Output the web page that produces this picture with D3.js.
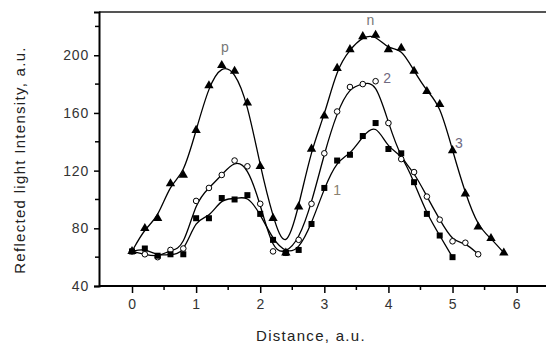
<!DOCTYPE html>
<html>
<head>
<meta charset="utf-8">
<script src="https://cdn.jsdelivr.net/npm/d3@7"></script>
<style>
  body { margin: 0; background: #fff; }
  text { font-family: Arial, "Liberation Sans", sans-serif; }
  .tick-label { font-size: 14px; fill: #333; letter-spacing: 0.8px; }
  .axis-title { font-size: 15px; fill: #222; letter-spacing: 1.3px; }
  .curve-label { font-size: 14px; }
</style>
</head>
<body>
<div id="chart"></div>
<script>
const W = 546, H = 346;

// distances (a.u.), step 0.2
const xs1 = d3.range(26).map(i => +(i * 0.2).toFixed(1));
const xs2 = d3.range(28).map(i => +(i * 0.2).toFixed(1));
const xs3 = d3.range(30).map(i => +(i * 0.2).toFixed(1));

// curve 1 - filled squares
const series1 = [64, 66, 61, 62, 62, 87, 87, 101, 100, 103, 90, 72, 63, 65, 83, 108, 127, 131, 144, 153, 135, 132, 112, 90, 75, 60];
// curve 2 - open circles
const series2 = [64, 62, 60, 65, 66, 99, 108, 117, 127, 123, 97, 64, 63, 72, 97, 132, 161, 178, 180, 182, 153, 128, 119, 102, 86, 71, 70, 62];
// curve 3 - filled triangles
const series3 = [64, 80, 87, 111, 117, 148, 179, 193, 189, 167, 123, 87, 63, 95, 135, 158, 191, 204, 213, 214, 204, 205, 189, 175, 166, 134, 104, 81, 73, 63];

const xTicks = [0, 1, 2, 3, 4, 5, 6];
const xMinor = [0.5, 1.5, 2.5, 3.5, 4.5, 5.5, 6.5];
const yTicks = [40, 80, 120, 160, 200];
const yMinor = [60, 100, 140, 180, 220];

const labels = [
  { t: "p", x: 1.45, y: 202, c: "#777" },
  { t: "n", x: 3.72, y: 221, c: "#777" },
  { t: "2", x: 3.98, y: 180.5, c: "#6f6a80" },
  { t: "3", x: 5.1, y: 135.5, c: "#6f6a80" },
  { t: "1", x: 3.2, y: 103, c: "#8a8070" }
];

const x = d3.scaleLinear().domain([-0.515, 6.7]).range([99, 561.5]);
const y = d3.scaleLinear().domain([40, 230]).range([286, 12]);

const svg = d3.select("#chart").append("svg")
  .attr("width", W)
  .attr("height", H);

// frame: top line, left and bottom axes (right side runs off the picture)
svg.append("line")
  .attr("x1", x(-0.515)).attr("x2", W)
  .attr("y1", y(230)).attr("y2", y(230))
  .attr("stroke", "#555").attr("stroke-width", 2);

const xAxis = svg.append("g")
  .attr("transform", `translate(0,${y(40)})`)
  .call(d3.axisBottom(x).tickValues(xTicks).tickSize(7).tickPadding(6).tickFormat(d3.format("d")));
xAxis.append("g").selectAll("line").data(xMinor).join("line")
  .attr("x1", d => x(d)).attr("x2", d => x(d))
  .attr("y1", 0).attr("y2", 4)
  .attr("stroke", "#000").attr("stroke-width", 1.5);

const yAxis = svg.append("g")
  .attr("transform", `translate(${x(-0.515)},0)`)
  .call(d3.axisLeft(y).tickValues(yTicks).tickSize(5).tickPadding(5).tickFormat(d3.format("d")));
yAxis.append("g").selectAll("line").data(yMinor).join("line")
  .attr("y1", d => y(d)).attr("y2", d => y(d))
  .attr("x1", 0).attr("x2", -4)
  .attr("stroke", "#000").attr("stroke-width", 1.5);

[xAxis, yAxis].forEach(g => {
  g.select(".domain").attr("stroke", "#000").attr("stroke-width", 2);
  g.selectAll(".tick line").attr("stroke-width", 1.5);
  g.selectAll(".tick text").attr("class", "tick-label").style("font-size", null);
  g.attr("font-size", null).attr("font-family", null);
});
xAxis.select(".domain").attr("d", `M${x(-0.515)},0H${W}`);

// axis titles
svg.append("text")
  .attr("class", "axis-title")
  .attr("x", 311).attr("y", 341)
  .attr("text-anchor", "middle")
  .text("Distance, a.u.");

svg.append("text")
  .attr("class", "axis-title")
  .attr("transform", "rotate(-90)")
  .attr("x", -160).attr("y", 25)
  .attr("text-anchor", "middle")
  .text("Reflected light Intensity, a.u.");

// B-spline smoothed lines
const line = d3.line().x(d => x(d[0])).y(d => y(d[1])).curve(d3.curveBasis);
const data1 = xs1.map((v, i) => [v, series1[i]]);
const data2 = xs2.map((v, i) => [v, series2[i]]);
const data3 = xs3.map((v, i) => [v, series3[i]]);

[data1, data2, data3].forEach(d => {
  svg.append("path")
    .datum(d)
    .attr("d", line)
    .attr("fill", "none")
    .attr("stroke", "#000")
    .attr("stroke-width", 1.3);
});

// markers
svg.append("g").selectAll("path").data(data3).join("path")
  .attr("d", d3.symbol(d3.symbolTriangle, 38))
  .attr("transform", d => `translate(${x(d[0])},${y(d[1])})`)
  .attr("fill", "#000");

svg.append("g").selectAll("circle").data(data2).join("circle")
  .attr("cx", d => x(d[0])).attr("cy", d => y(d[1]))
  .attr("r", 2.8)
  .attr("fill", "#fff").attr("stroke", "#000").attr("stroke-width", 1);

svg.append("g").selectAll("rect").data(data1).join("rect")
  .attr("x", d => x(d[0]) - 3).attr("y", d => y(d[1]) - 3)
  .attr("width", 6).attr("height", 6)
  .attr("fill", "#000");

// curve labels
svg.append("g").selectAll("text").data(labels).join("text")
  .attr("class", "curve-label")
  .attr("x", d => x(d.x)).attr("y", d => y(d.y))
  .attr("text-anchor", "middle")
  .attr("fill", d => d.c)
  .text(d => d.t);
</script>
</body>
</html>
